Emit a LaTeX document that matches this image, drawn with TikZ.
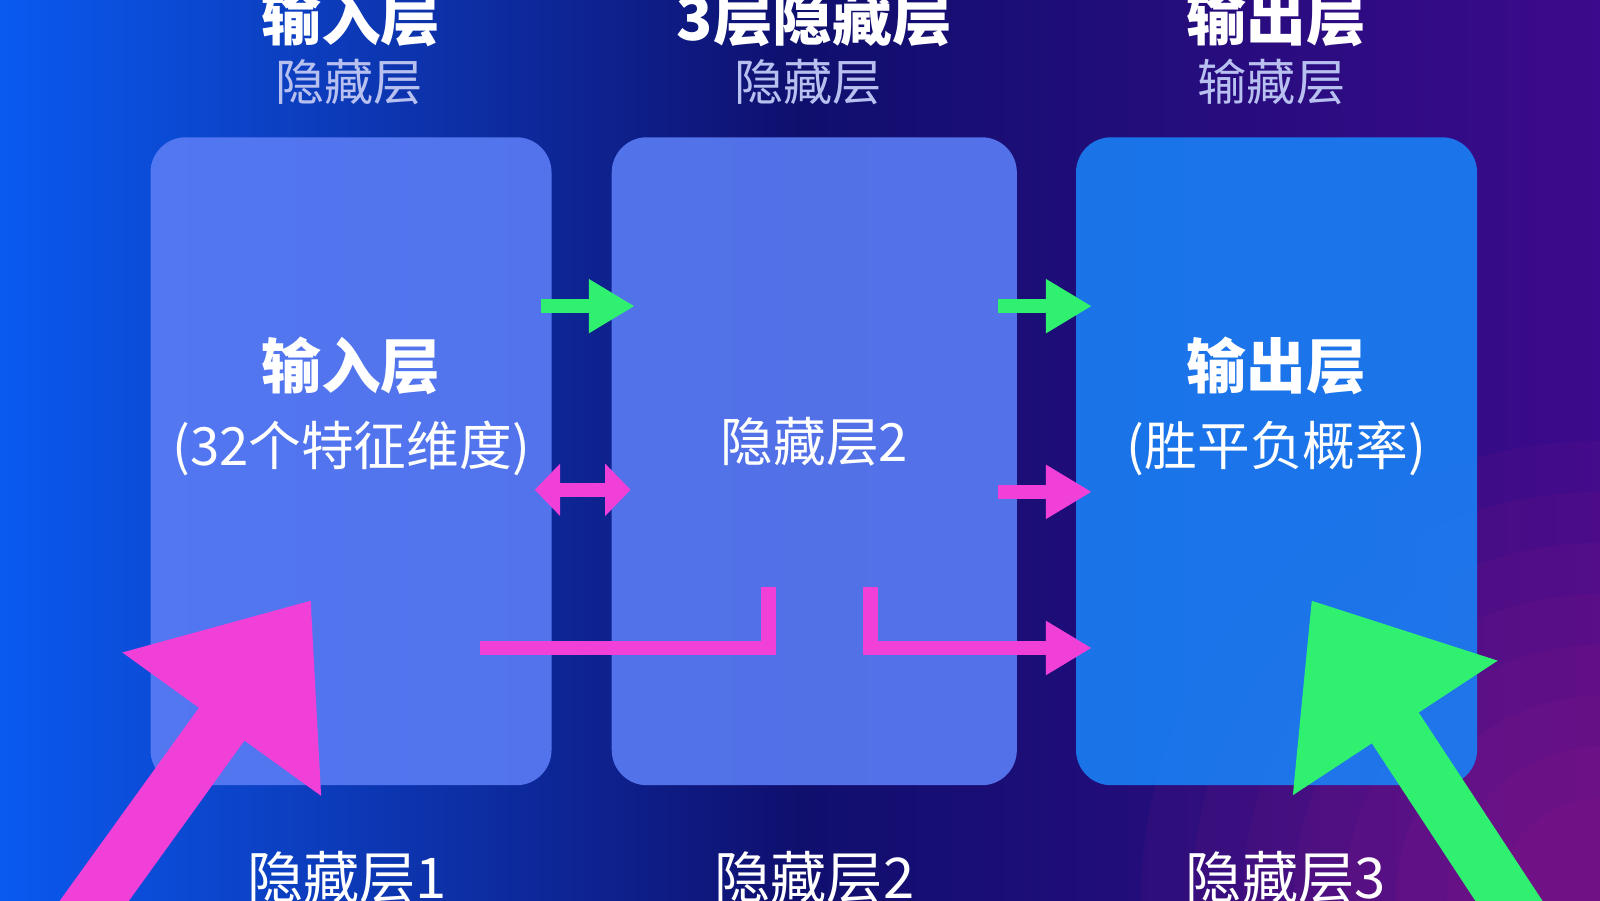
\documentclass[tikz,border=0pt]{standalone}
\usepackage{fontspec}
\setmainfont{Noto Sans CJK SC}
\usetikzlibrary{arrows.meta,shadings}
\definecolor{boxa}{HTML}{5A7CF5}
\definecolor{boxc}{HTML}{1A80F5}
\definecolor{grn}{HTML}{30F070}
\definecolor{pnk}{HTML}{F040D8}
\definecolor{sub}{HTML}{B8C0F0}
\tikzset{layerbox/.style={rounded corners=10pt, minimum width=393*0.010204cm, minimum height=635*0.010204cm, fill opacity=0.9, inner sep=0},
 title/.style={text=white, font=\bfseries\fontsize{17}{20}\selectfont},
 bottom/.style={text=white, font=\fontsize{16}{20}\selectfont},
 subt/.style={text=sub, font=\fontsize{14}{16}\selectfont},
 inner/.style={text=white, font=\fontsize{15}{22}\selectfont, align=center},
 flow/.style={line width=14*0.010204cm, -{Triangle[length=45*0.010204cm,width=50*0.010204cm]}}}
\begin{document}
\begin{tikzpicture}[x=0.010204cm,y=-0.010204cm]
\useasboundingbox (0,0) rectangle (1568,882);
\shade[left color={rgb,255:red,10;green,90;blue,240}, right color={rgb,255:red,60;green,10;blue,140}, middle color={rgb,255:red,15;green,15;blue,110}] (0,0) rectangle (1568,882);
\begin{scope}
\clip (0,0) rectangle (1568,882);
\foreach \r in {450,400,...,100}{\fill[magenta!70!violet, opacity=0.06] (1568,882) circle (\r);}
\end{scope}
\node[layerbox, fill=boxa] (b1) at (344,452) {};
\node[layerbox, fill=boxa, minimum width=397*0.010204cm] (b2) at (798,452) {};
\node[layerbox, fill=boxc] (b3) at (1251,452) {};
\node[title] (t1) at (344,18) {输入层};
\node[title] (t2) at (798,18) {3层隐藏层};
\node[title] (t3) at (1251,18) {输出层};
\node[subt] (s1) at (342,80) {隐藏层};
\node[subt] (s2) at (792,80) {隐藏层};
\node[subt] (s3) at (1246,80) {输藏层};
\node[inner] (i1) at (344,398) {{\bfseries\fontsize{17}{22}\selectfont 输入层}\\(32个特征维度)};
\node[inner] (i2) at (798,433) {隐藏层2};
\node[inner] (i3) at (1251,398) {{\bfseries\fontsize{17}{22}\selectfont 输出层}\\(胜平负概率)};
\node[bottom] (l1) at (340,860) {隐藏层1};
\node[bottom] (l2) at (798,860) {隐藏层2};
\node[bottom] (l3) at (1260,860) {隐藏层3};
\coordinate (a1) at (530,300); \coordinate (a2) at (622,300);
\coordinate (a3) at (978,300); \coordinate (a4) at (1070,300);
\coordinate (p1) at (524,480); \coordinate (p2) at (618,480);
\coordinate (p3) at (978,482); \coordinate (p4) at (1070,482);
\draw[flow, grn] (a1) -- (a2);
\draw[flow, grn] (a3) -- (a4);
\draw[flow, pnk, {Triangle[length=25*0.010204cm,width=50*0.010204cm]}-{Triangle[length=25*0.010204cm,width=50*0.010204cm]}] (p1) -- (p2);
\draw[flow, pnk] (p3) -- (p4);
\coordinate (e1) at (470,635); \coordinate (e2) at (753,575);
\coordinate (e3) at (853,575); \coordinate (e4) at (1070,635);
\draw[pnk, line width=14*0.010204cm] (e1) -| (e2);
\draw[flow, pnk] (e3) |- (e4);
\coordinate (g1) at (80,900); \coordinate (g2) at (305,588);
\draw[pnk, line width=55*0.010204cm, -{Triangle[length=150*0.010204cm,width=230*0.010204cm]}] (g1) -- (g2);
\coordinate (h1) at (1490,900); \coordinate (h2) at (1285,588);
\draw[grn, line width=55*0.010204cm, -{Triangle[length=150*0.010204cm,width=230*0.010204cm]}] (h1) -- (h2);
\end{tikzpicture}
\end{document}
